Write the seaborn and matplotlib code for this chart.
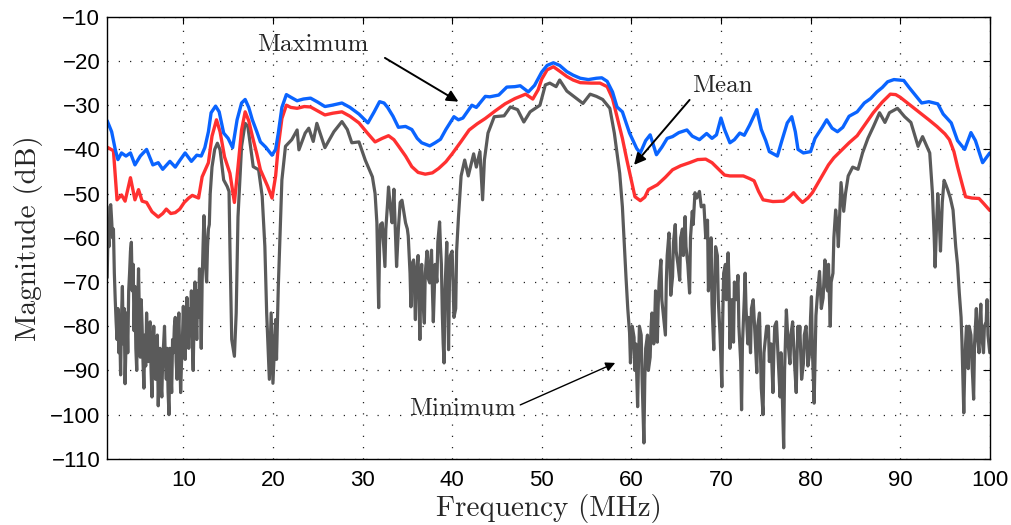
import numpy as np
import pandas as pd
import matplotlib
matplotlib.use("Agg")
import matplotlib.pyplot as plt
import seaborn as sns

# ---------------- data ----------------
max_freq = [1.5, 2.0, 2.4, 2.7, 3.1, 3.6, 4.1, 4.6, 5.2, 5.9, 6.6, 7.2, 7.7, 8.5, 9.1, 9.6, 10.2, 10.9,
            11.5, 12.0, 12.4, 12.8, 13.1, 13.6, 14.0, 14.5, 15.0, 15.5, 16.0, 16.5, 16.9, 17.3, 17.7,
            18.2, 18.6, 19.2, 19.9, 20.3, 20.6, 21.0, 21.5, 22.0, 22.7, 23.4, 24.2, 25.0, 25.8, 26.6,
            27.7, 28.6, 29.6, 30.6, 31.3, 31.9, 32.4, 32.8, 33.4, 34.0, 34.8, 35.5, 36.1, 36.6, 37.5,
            38.1, 38.7, 39.3, 40.2, 40.7, 41.2, 42.2, 42.7, 43.7, 44.2, 45.2, 46.1, 47.0, 47.6, 48.5,
            49.2, 50.0, 50.6, 51.3, 52.0, 52.8, 53.5, 54.3, 55.2, 56.1, 56.7, 57.3, 57.9, 58.4, 59.0,
            59.8, 60.6, 61.0, 61.6, 62.1, 62.8, 63.4, 64.0, 64.6, 65.3, 66.2, 66.8, 67.6, 68.4, 69.0,
            69.5, 70.0, 70.4, 71.0, 71.5, 72.1, 72.6, 73.2, 74.0, 74.5, 75.0, 75.4, 76.3, 76.8, 77.4,
            77.9, 78.3, 78.6, 79.2, 80.0, 80.5, 81.3, 81.8, 82.4, 83.0, 83.6, 84.3, 85.2, 86.0, 86.7,
            87.4, 88.0, 88.6, 89.3, 90.4, 91.0, 91.8, 92.4, 93.2, 94.2, 94.8, 95.7, 96.4, 97.2, 97.9,
            98.4, 99.2, 100.0]
max_db = [-33.5, -36, -40, -42.3, -40.8, -41.5, -40.8, -43.5, -41.5, -40, -43.5, -43, -44.5, -42.7, -44,
          -42.5, -40.8, -42.7, -41.3, -41.5, -39.6, -36, -31.7, -30.2, -31.5, -36.3, -37.5, -39.6, -33.3,
          -29.5, -28.7, -30.5, -33.3, -36, -38.3, -39.5, -41.3, -40, -36.3, -30.5, -27.6, -28.2, -29,
          -28.6, -28.4, -29.3, -30.3, -30.0, -29.5, -30.5, -32, -34, -31.5, -29.2, -29.5, -30.5, -32.5,
          -35, -34.8, -35.5, -37.5, -38.5, -39.2, -38.5, -37.7, -35.5, -32.6, -33.3, -32.9, -30, -30.5,
          -28, -28.1, -27.7, -25.9, -25.8, -25.6, -27, -25.5, -22.5, -21, -20.4, -21, -22.4, -23.2,
          -23.9, -24.2, -23.9, -23.8, -24.6, -27, -30.4, -31.5, -36.3, -39.8, -40.8, -38, -36.7, -41.2,
          -39.5, -37.5, -37.1, -36.2, -35.6, -37, -37.8, -36.4, -37.5, -36.7, -32.9, -35.5, -38.5,
          -37.8, -36.3, -36.8, -34.5, -31, -35.5, -38, -40.5, -41.5, -38, -34, -32.6, -36, -40, -40.8,
          -40.5, -37.5, -35, -33.3, -35.2, -36, -35, -32.5, -31.5, -29.5, -28.5, -27, -26, -24.7,
          -24.2, -24.4, -26, -28, -29.5, -29.2, -29.7, -32, -34, -38, -40, -36.2, -38, -43, -40.8]

mean_freq = [1.5, 2.2, 2.6, 3.1, 3.5, 4.1, 4.6, 5.0, 5.4, 5.9, 6.5, 7.2, 7.7, 8.1, 8.6, 9.1, 9.6, 10.1,
             10.6, 11.0, 11.7, 12.1, 12.8, 13.2, 13.7, 14.1, 14.6, 15.2, 15.7, 16.1, 16.5, 16.9, 17.3,
             17.7, 18.2, 18.6, 19.4, 19.9, 20.3, 20.6, 21.0, 21.5, 22.0, 22.7, 23.5, 24.2, 25.0, 25.8,
             26.7, 27.7, 28.6, 29.6, 30.5, 31.4, 32.2, 32.9, 33.5, 34.0, 34.8, 35.5, 36.2, 37.0, 37.8,
             38.5, 39.3, 40.0, 41.0, 41.9, 42.8, 43.7, 44.8, 45.9, 47.0, 48.2, 49.0, 49.6, 50.0, 50.6,
             51.3, 52.0, 52.8, 53.5, 54.3, 55.5, 56.5, 57.3, 57.9, 58.4, 59.0, 59.5, 60.0, 60.4, 61.0,
             61.5, 61.9, 62.9, 63.8, 64.6, 65.5, 66.5, 67.4, 68.3, 69.0, 69.8, 70.4, 71.0, 72.5, 73.2,
             73.7, 74.2, 74.7, 75.8, 77.0, 77.6, 78.1, 78.6, 79.1, 79.7, 80.2, 81.0, 82.0, 82.6, 83.4,
             84.3, 85.2, 86.1, 87.0, 88.0, 88.9, 89.5, 90.0, 91.0, 92.2, 93.2, 94.1, 95.0, 95.5, 96.0,
             96.4, 97.0, 97.3, 98.0, 98.8, 99.3, 100.0]
mean_db = [-39.5, -40.3, -51.4, -50.3, -51.7, -46.4, -51.4, -49.1, -51.7, -52, -54.1, -55.3, -54.5, -53.5,
           -54.5, -54.3, -53.5, -52, -51, -50.4, -51, -46.2, -43, -37, -33.3, -36, -41.7, -45.4, -52, -44,
           -35.6, -31.5, -33.5, -37, -41, -44.6, -48.3, -51, -46, -39.3, -33, -30, -30.5, -30.7, -30.3,
           -30.4, -31.3, -32.2, -31.8, -31.5, -32.5, -34, -36.2, -38.3, -37.5, -36.9, -37.8, -39.2, -41.5,
           -43.9, -45.2, -45.6, -45.3, -44.3, -42.8, -41, -38.2, -35.6, -34.2, -33, -31.3, -29.7, -28.5,
           -27.5, -28.6, -26.5, -24.1, -22, -21.3, -22.3, -23.5, -24.3, -24.9, -25, -25, -25.8, -28.5,
           -32.6, -37.5, -42.4, -47, -50.7, -51.6, -50.8, -49.1, -48, -46.3, -44.6, -43.7, -43, -42.3,
           -42.2, -43, -44.6, -45.8, -46, -46, -46.6, -47.1, -49.5, -51.4, -51.8, -51.7, -50.8, -49.8,
           -51, -52, -51, -49.8, -47, -43.5, -41.9, -40.3, -38.5, -36.9, -34.3, -31.7, -29.3, -27.5,
           -27.6, -28.2, -29.8, -31.7, -33.3, -34.8, -36.5, -37.8, -40.5, -43.9, -48.5, -50.7, -51, -51.1,
           -52.2, -53.8]

# minimum trace as (frequency MHz, magnitude dB) readings
min_points = [
    (1.5, -69), (1.6, -58), (1.7, -62), (1.8, -53), (1.9, -52.5), (2.0, -56), (2.1, -60), (2.2, -58),
    (2.3, -68), (2.4, -74), (2.5, -79), (2.6, -83), (2.7, -76), (2.8, -86), (2.9, -80), (3.0, -91),
    (3.1, -78), (3.2, -71), (3.3, -84), (3.4, -76), (3.5, -93), (3.6, -84), (3.7, -77), (3.8, -86),
    (3.9, -72), (4.0, -68), (4.1, -63), (4.2, -61), (4.3, -72), (4.4, -66), (4.5, -81), (4.6, -71),
    (4.7, -85), (4.8, -90), (4.9, -76), (5.0, -67), (5.1, -78), (5.2, -87), (5.3, -74), (5.4, -80),
    (5.5, -88), (5.6, -94), (5.7, -82), (5.8, -89), (5.9, -77), (6.0, -84), (6.1, -88), (6.2, -80),
    (6.3, -79), (6.4, -90), (6.5, -96), (6.6, -85), (6.7, -80), (6.8, -88), (6.9, -92), (7.0, -83),
    (7.1, -82), (7.2, -98), (7.3, -90), (7.4, -85), (7.5, -93), (7.6, -96), (7.7, -87), (7.8, -84),
    (7.9, -80), (8.0, -88), (8.1, -92), (8.2, -85), (8.3, -95), (8.4, -100), (8.5, -85), (8.6, -90),
    (8.7, -95), (8.8, -83), (8.9, -86), (9.0, -80), (9.1, -78), (9.2, -88), (9.3, -92), (9.4, -82),
    (9.5, -77), (9.6, -86), (9.7, -95), (9.8, -88), (9.9, -83), (10.0, -75.5), (10.1, -82),
    (10.2, -87.5), (10.3, -79), (10.4, -73.5), (10.5, -80), (10.6, -85), (10.7, -76), (10.8, -80),
    (10.9, -72), (11.0, -84), (11.1, -90), (11.2, -78), (11.3, -70), (11.4, -76), (11.5, -83),
    (11.6, -72), (11.7, -78), (11.8, -67), (11.9, -74), (12.0, -85), (12.1, -70), (12.2, -62),
    (12.3, -55), (12.4, -60), (12.5, -67), (12.6, -70), (12.7, -62), (12.8, -58), (12.9, -57),
    (13.0, -50), (13.2, -44), (13.5, -40), (13.8, -38.6), (14.1, -40.1), (14.5, -46.9), (14.9, -48.4),
    (15.1, -49.5), (15.2, -62), (15.4, -83), (15.7, -86.8), (15.9, -77), (16.1, -55.3), (16.5, -39.3),
    (16.9, -34.1), (17.2, -34.8), (17.5, -39.3), (17.8, -43.9), (18.4, -44.6), (18.8, -50.6),
    (19.1, -62), (19.3, -77), (19.6, -92), (19.8, -77), (20.0, -92.9), (20.3, -78.5), (20.4, -87.5),
    (20.6, -71), (21.0, -46.9), (21.4, -39.3), (22.1, -37.8), (22.7, -35.6), (22.9, -40.1),
    (23.6, -36.3), (24.0, -35.2), (24.5, -38.2), (24.9, -34.1), (25.8, -39.6), (26.8, -36),
    (27.7, -33.7), (28.3, -35.5), (28.8, -38.5), (29.6, -38.3), (30.3, -42.4),
    (31.1, -46.2), (31.4, -50), (31.6, -56.6), (31.7, -66), (31.8, -75.8), (31.9, -62), (32.0, -57),
    (32.2, -56.6), (32.3, -60), (32.5, -66.5), (32.6, -58), (32.8, -52), (32.9, -48.5), (33.1, -53),
    (33.3, -56.6), (33.5, -49), (33.6, -55), (33.8, -66.5), (34.0, -58), (34.2, -52), (34.4, -51.5),
    (34.6, -54), (34.8, -56.6), (35.0, -58), (35.1, -59.6), (35.3, -68), (35.4, -75.6), (35.5, -66),
    (35.7, -65), (35.8, -72), (35.9, -78.5), (36.0, -68), (36.2, -64), (36.3, -74), (36.4, -83),
    (36.5, -70), (36.6, -66), (36.7, -73), (36.9, -79.3), (37.0, -68), (37.2, -63), (37.3, -69),
    (37.5, -70.2), (37.6, -65), (37.7, -62.8), (37.8, -72), (37.9, -79), (38.1, -66), (38.3, -70),
    (38.4, -61), (38.6, -56.4), (38.7, -62), (38.8, -66), (38.9, -77), (39.0, -84), (39.1, -88.3),
    (39.2, -72), (39.4, -61), (39.5, -72), (39.6, -85.3), (39.7, -70), (39.8, -64), (40.0, -63),
    (40.1, -70), (40.2, -78), (40.4, -76), (40.5, -63), (40.7, -55.5),
    (41.0, -46), (41.4, -42.4), (41.8, -46), (42.4, -41), (42.7, -44), (43.1, -40.5), (43.4, -51.4),
    (43.6, -42.4), (44.0, -36.3), (44.7, -32.6), (45.8, -32.4), (46.5, -30.4), (47.3, -31),
    (48.0, -33.8), (48.7, -31.5), (49.8, -30), (50.4, -25.4), (50.9, -25), (51.6, -25.8),
    (52.0, -24.3), (52.8, -26.8), (53.9, -28.5), (54.6, -29.6), (55.4, -27.5), (56.1, -28),
    (56.8, -28.7), (57.6, -30.7), (58.1, -36.3), (58.7, -45.4), (59.0, -53),
    (59.4, -68.8), (59.6, -76), (59.8, -81.5), (59.9, -88.3), (60.1, -80), (60.3, -82.5), (60.4, -90),
    (60.5, -84), (60.7, -98.2), (60.8, -88), (60.9, -80), (61.1, -82), (61.2, -92), (61.3, -99),
    (61.4, -106.4), (61.5, -92), (61.6, -85), (61.8, -82), (61.9, -90), (62.1, -87), (62.2, -80),
    (62.3, -77), (62.5, -84), (62.6, -79), (62.7, -72), (62.9, -83.6), (63.0, -75), (63.1, -70),
    (63.3, -65), (63.4, -74), (63.6, -78), (63.8, -82), (63.9, -70), (64.0, -64), (64.2, -58.9),
    (64.3, -66), (64.4, -73), (64.6, -68.8), (64.7, -61), (64.9, -57), (65.0, -63), (65.2, -66),
    (65.4, -69.6), (65.5, -60), (65.7, -58), (65.8, -64), (66.0, -55.2), (66.1, -62), (66.3, -66),
    (66.5, -72.5), (66.6, -60), (66.8, -54), (66.9, -57), (67.1, -49.8), (67.3, -51), (67.6, -49.5),
    (67.8, -53), (68.1, -52.6), (68.3, -60), (68.5, -56), (68.6, -72), (68.8, -65), (68.9, -60),
    (69.0, -75), (69.2, -85.3), (69.3, -70), (69.4, -62), (69.6, -64), (69.7, -74), (69.9, -82),
    (70.1, -93.7), (70.2, -78), (70.3, -68), (70.5, -66), (70.6, -74), (70.8, -63.4), (70.9, -70),
    (71.0, -85), (71.2, -74), (71.4, -83.6), (71.5, -70), (71.7, -74), (71.9, -68.5), (72.0, -80),
    (72.2, -88), (72.3, -98.9), (72.4, -84), (72.6, -74), (72.7, -68), (72.8, -76), (73.0, -84),
    (73.1, -78), (73.3, -86), (73.4, -76), (73.6, -74), (73.8, -82), (74.0, -90.5), (74.1, -80),
    (74.3, -77), (74.4, -86), (74.5, -94), (74.7, -100), (74.8, -86), (75.0, -82), (75.1, -80),
    (75.3, -80), (75.4, -88), (75.6, -84), (75.8, -95), (75.9, -86), (76.0, -80), (76.2, -79),
    (76.4, -88), (76.6, -96), (76.7, -86), (76.8, -92), (77.0, -107.5), (77.1, -90), (77.3, -76.3),
    (77.5, -84), (77.7, -88.5), (77.8, -82), (78.0, -79), (78.2, -88), (78.4, -95), (78.5, -86),
    (78.6, -80), (78.7, -84), (78.8, -80), (79.0, -92), (79.2, -88.5), (79.3, -82), (79.5, -80),
    (79.7, -89), (79.9, -86), (80.0, -78), (80.1, -73.3), (80.2, -85), (80.4, -97.4), (80.5, -88),
    (80.6, -77.6), (80.8, -72), (81.0, -67.6), (81.2, -76), (81.4, -73.6), (81.6, -65), (81.7, -70),
    (81.9, -72), (82.0, -66), (82.2, -80), (82.3, -70), (82.5, -68), (82.6, -60), (82.8, -53.7),
    (83.0, -58), (83.1, -62), (83.4, -47.5), (83.7, -54), (83.9, -50), (84.2, -46),
    (84.7, -44), (85.3, -44.5), (85.8, -40.8), (86.4, -37.5), (87.0, -34.9), (87.7, -31.7),
    (88.3, -33.9), (88.8, -31.7), (89.7, -30.7), (90.5, -32.6), (91.2, -33.9), (92.0, -39.3),
    (92.5, -37.1),
    (93.3, -40.8), (93.6, -49.8), (93.8, -60), (93.9, -66.6), (94.1, -55), (94.2, -50), (94.4, -58),
    (94.5, -63), (94.7, -52), (94.9, -47), (95.1, -48), (95.3, -49.1), (95.6, -51), (95.9, -53.7),
    (96.2, -62), (96.4, -66), (96.6, -72.5), (96.8, -78), (96.9, -83.8), (97.0, -92), (97.1, -99.6),
    (97.2, -90), (97.3, -84), (97.4, -80), (97.5, -86), (97.6, -89.6), (97.7, -80), (97.9, -82),
    (98.0, -88), (98.1, -92), (98.2, -96.5), (98.3, -84), (98.5, -76), (98.6, -82), (98.8, -86),
    (98.9, -79), (99.0, -75), (99.1, -82), (99.3, -86), (99.4, -80), (99.6, -79), (99.7, -74),
    (99.8, -82), (100.0, -86),
]
min_freq = [p[0] for p in min_points]
min_db = [p[1] for p in min_points]

x_ticks = [10, 20, 30, 40, 50, 60, 70, 80, 90, 100]
y_ticks = [-110, -100, -90, -80, -70, -60, -50, -40, -30, -20, -10]

# ---------------- style ----------------
sns.set_style("white")
plt.rcParams["font.family"] = ["Liberation Sans", "DejaVu Sans"]
serif = ["cmr10", "DejaVu Serif"]

fig = plt.figure(figsize=(10.11, 5.25), dpi=100)
ax = fig.add_axes([0.106, 0.126, 0.873, 0.842])

df_max = pd.DataFrame({"f": max_freq, "v": max_db})
df_mean = pd.DataFrame({"f": mean_freq, "v": mean_db})
df_min = pd.DataFrame({"f": min_freq, "v": min_db})

sns.lineplot(data=df_min, x="f", y="v", ax=ax, color="#5a5a5a", lw=2.3, estimator=None)
sns.lineplot(data=df_mean, x="f", y="v", ax=ax, color="#ff3030", lw=2.4, estimator=None)
sns.lineplot(data=df_max, x="f", y="v", ax=ax, color="#0a64ff", lw=2.4, estimator=None)

ax.set_xlim(1.5, 100)
ax.set_ylim(-110, -10)
ax.set_xticks(x_ticks)
ax.set_yticks(y_ticks)
ax.set_yticklabels([f"\u2212{abs(v)}" for v in y_ticks])
ax.tick_params(direction="in", top=True, right=True, length=5, width=0.8,
               labelsize=16, colors="black")
ax.tick_params(axis="x", pad=8)
ax.tick_params(axis="y", pad=5)
ax.grid(True, linestyle=(0, (1, 8)), color="#222222", lw=0.9)
for s in ax.spines.values():
    s.set_color("black")
    s.set_linewidth(1.0)

ax.set_xlabel("Frequency (MHz)", family=serif, fontsize=21, labelpad=2)
ax.set_ylabel("Magnitude (dB)", family=serif, fontsize=21, labelpad=5)

arrow = dict(arrowstyle="-|>", color="black", lw=1.4, mutation_scale=17, shrinkA=0, shrinkB=0)
ax.text(24.4, -16.3, "Maximum", family=serif, fontsize=18, ha="center", va="center")
ax.annotate("", xy=(40.7, -29.2), xytext=(32.5, -19.3), arrowprops=arrow)
ax.text(70.2, -25.6, "Mean", family=serif, fontsize=18, ha="center", va="center")
ax.annotate("", xy=(60.3, -43.5), xytext=(66.5, -28.8), arrowprops=arrow)
ax.text(41.1, -98.7, "Minimum", family=serif, fontsize=18, ha="center", va="center")
ax.annotate("", xy=(58.2, -88.3), xytext=(47.6, -97.8),
            arrowprops=dict(arrowstyle="-|>", color="black", lw=1.0, mutation_scale=14,
                            shrinkA=0, shrinkB=0))

fig.savefig("out.png", dpi=100)
